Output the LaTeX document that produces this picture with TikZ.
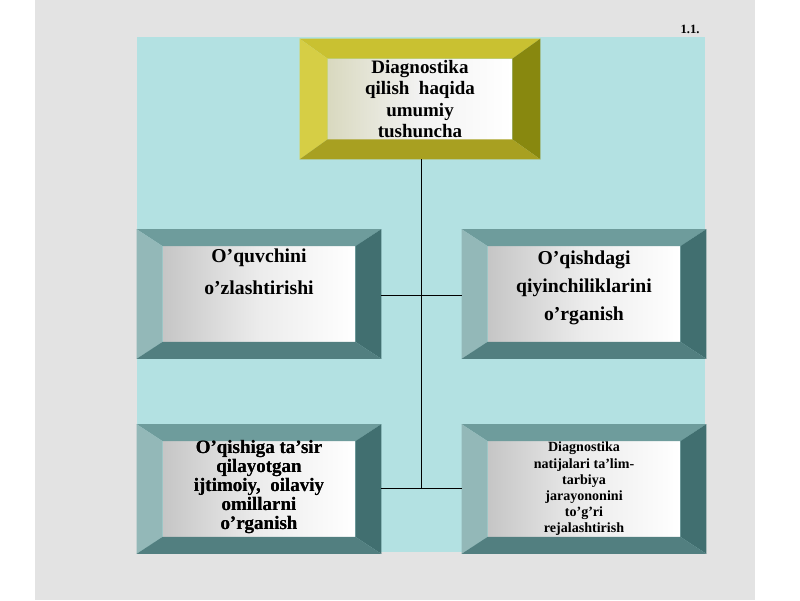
\documentclass[tikz,border=0pt]{standalone}
\usepackage{fontspec}
\setmainfont{Liberation Serif}
\usetikzlibrary{calc}
\definecolor{pagegray}{HTML}{E3E3E3}
\definecolor{sky}{HTML}{B3E1E2}
\definecolor{tealtop}{HTML}{6E9C9C}
\definecolor{tealleft}{HTML}{93B8B8}
\definecolor{tealright}{HTML}{416F70}
\definecolor{tealbot}{HTML}{527F80}
\definecolor{goldtop}{HTML}{C9C131}
\definecolor{goldleft}{HTML}{D6CE45}
\definecolor{goldright}{HTML}{88880F}
\definecolor{goldbot}{HTML}{A8A021}
\tikzset{
  face/.style={inner sep=0pt, align=center, font=\bfseries},
  tealface/.style={face, left color=gray!45, right color=white, middle color=gray!15},
  goldface/.style={face, left color=yellow!25!gray!40, right color=white, middle color=gray!10},
  link/.style={draw, line width=0.6pt},
}
% bevel frame round a face node: #1 name, #2 bevel x, #3 bevel y, #4 colour prefix
\newcommand{\bevelframe}[4]{
  \fill[#4top] ($(#1.north west)+(-#2,-#3)$) -- ($(#1.north east)+(#2,-#3)$) -- (#1.north east) -- (#1.north west) -- cycle;
  \fill[#4left] ($(#1.north west)+(-#2,-#3)$) -- (#1.north west) -- (#1.south west) -- ($(#1.south west)+(-#2,#3)$) -- cycle;
  \fill[#4right] ($(#1.north east)+(#2,-#3)$) -- ($(#1.south east)+(#2,#3)$) -- (#1.south east) -- (#1.north east) -- cycle;
  \fill[#4bot] ($(#1.south west)+(-#2,#3)$) -- (#1.south west) -- (#1.south east) -- ($(#1.south east)+(#2,#3)$) -- cycle;
}
\begin{document}
\begin{tikzpicture}[x=0.025cm, y=-0.025cm]
\useasboundingbox (0,0) rectangle (800,600);
\fill[white] (0,0) rectangle (800,600);
\fill[pagegray] (35,0) rectangle (755,600);
\fill[sky] (137,37) rectangle (705,552);
\node[font=\bfseries\small] (num) at (690,29) {1.1.};

% faces
\node[goldface, minimum width=184*0.025cm, minimum height=80*0.025cm, font=\bfseries\fontsize{13.5}{15}\selectfont] (top) at (420,99)
  {Diagnostika\\qilish\ \ haqida\\umumiy\\tushuncha};
\node[tealface, minimum width=192*0.025cm, minimum height=95*0.025cm] (lt) at (259,294) {};
\node[face, font=\bfseries\fontsize{14}{23}\selectfont] (ltx) at (259,272) {O’quvchini\\o’zlashtirishi};
\node[tealface, minimum width=192*0.025cm, minimum height=95*0.025cm] (rt) at (584,294) {};
\node[face, font=\bfseries\fontsize{14}{20}\selectfont] (rtx) at (584,288) {O’qishdagi\\qiyinchiliklarini\\o’rganish};
\node[tealface, minimum width=192*0.025cm, minimum height=95*0.025cm] (lb) at (259,489) {};
\node[face, font=\bfseries\fontsize{13.5}{13.5}\selectfont] (lbx) at (259,487)
  {O’qishiga ta’sir\\qilayotgan\\ijtimoiy,\ \ oilaviy\\omillarni\\o’rganish};
\node[tealface, minimum width=192*0.025cm, minimum height=95*0.025cm, font=\bfseries\fontsize{10}{11.5}\selectfont] (rb) at (584,489)
  {Diagnostika\\natijalari ta’lim-\\tarbiya\\jarayononini\\to’g’ri\\rejalashtirish};

\bevelframe{top}{28}{20}{gold}
\bevelframe{lt}{26}{17}{teal}
\bevelframe{rt}{26}{17}{teal}
\bevelframe{lb}{26}{17}{teal}
\bevelframe{rb}{26}{17}{teal}
\node[face, font=\bfseries\fontsize{13.5}{13.5}\selectfont] at (lbx) {O’qishiga ta’sir\\qilayotgan\\ijtimoiy,\ \ oilaviy\\omillarni\\o’rganish};

% connectors
\coordinate (low) at (421,488);
\path[link] ($(top.south)+(1,20)$) -- (low);
\path[link] ($(lt.east)+(26,1)$) -- ($(rt.west)+(-26,1)$);
\path[link] ($(lb.east)+(26,-1)$) -- ($(rb.west)+(-26,-1)$);
\end{tikzpicture}
\end{document}
